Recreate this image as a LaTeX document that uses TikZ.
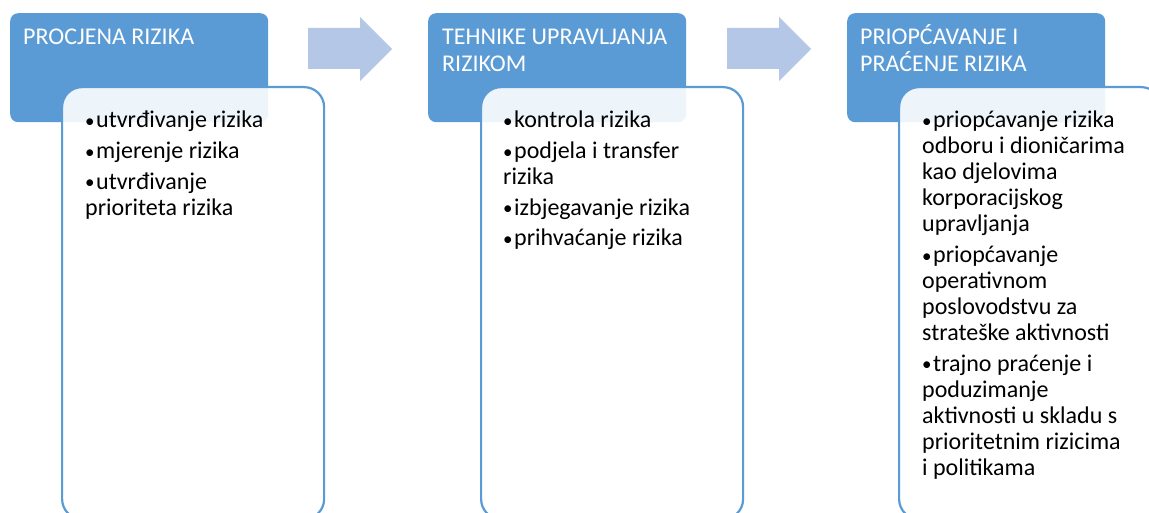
\documentclass[tikz,border=0pt]{standalone}
\usepackage{fontspec}
\setmainfont{Carlito}
\definecolor{hdr}{HTML}{5B9BD5}
\definecolor{arr}{HTML}{B4C7E7}
\definecolor{brd}{HTML}{5B9BD5}
\newcommand\bitem[1]{\par\hangindent=11pt\hangafter=1\noindent\makebox[11pt][l]{\raisebox{0.5pt}{\fontsize{19}{19}\selectfont\textbullet}}#1}
\newcommand\blist[1]{\vtop{\hsize=300pt\parindent=0pt\fontsize{24}{26}\selectfont\parskip=4.6pt\raggedright #1}}
\newcommand\hlist[1]{\vtop{\hsize=300pt\parindent=0pt\fontsize{24}{27}\selectfont\raggedright #1}}
\tikzset{
  hdrbox/.style={fill=hdr, rounded corners=8pt, inner sep=0pt, anchor=north west,
    minimum width=258pt, minimum height=109pt},
  contbox/.style={fill=white, fill opacity=0.9, draw=brd, draw opacity=1, line width=2.2pt,
    rounded corners=20pt, inner sep=0pt, anchor=north west, minimum width=262pt, minimum height=432pt},
  blockarrow/.style={fill=arr},
  hdrtext/.style={anchor=base west, inner sep=0pt, text=white},
  bodytext/.style={anchor=base west, inner sep=0pt, text=black},
}
\begin{document}
\begin{tikzpicture}[x=1pt,y=-1pt]
\clip (0,0) rectangle (1149,513);
\fill[white] (0,0) rectangle (1149,513);
% headers
\node[hdrbox] (h1) at (10,13) {};
\node[hdrbox] (h2) at (428,13) {};
\node[hdrbox] (h3) at (847,13) {};
% content boxes
\node[contbox] (c1) at (61,86) {};
\node[contbox] (c2) at (480,86) {};
\node[contbox] (c3) at (898,86) {};
% arrows
\fill[blockarrow] (308,28) -- (360,28) -- (360,17) -- (392,49) -- (360,81) -- (360,69) -- (308,69) -- cycle;
\fill[blockarrow] (727,28) -- (779,28) -- (779,17) -- (811,49) -- (779,81) -- (779,69) -- (727,69) -- cycle;
% header texts
\node[hdrtext] (t1) at (23,45) {\hlist{PROCJENA RIZIKA}};
\node[hdrtext] (t2) at (442,45) {\hlist{TEHNIKE UPRAVLJANJA\\RIZIKOM}};
\node[hdrtext] (t3) at (860,45) {\hlist{PRIOPĆAVANJE I\\PRAĆENJE RIZIKA}};
% body texts
\node[bodytext] (b1) at (85,128) {\blist{%
\bitem{utvrđivanje rizika}
\bitem{mjerenje rizika}
\bitem{utvrđivanje\\prioriteta rizika}}};
\node[bodytext] (b2) at (503,128) {\blist{%
\bitem{kontrola rizika}
\bitem{podjela i transfer\\rizika}
\bitem{izbjegavanje rizika}
\bitem{prihvaćanje rizika}}};
\node[bodytext] (b3) at (922,128) {\blist{%
\bitem{priopćavanje rizika\\odboru i dioničarima\\kao djelovima\\korporacijskog\\upravljanja}
\bitem{priopćavanje\\operativnom\\poslovodstvu za\\strateške aktivnosti}
\bitem{trajno praćenje i\\poduzimanje\\aktivnosti u skladu s\\prioritetnim rizicima\\i politikama}}};
\end{tikzpicture}
\end{document}
